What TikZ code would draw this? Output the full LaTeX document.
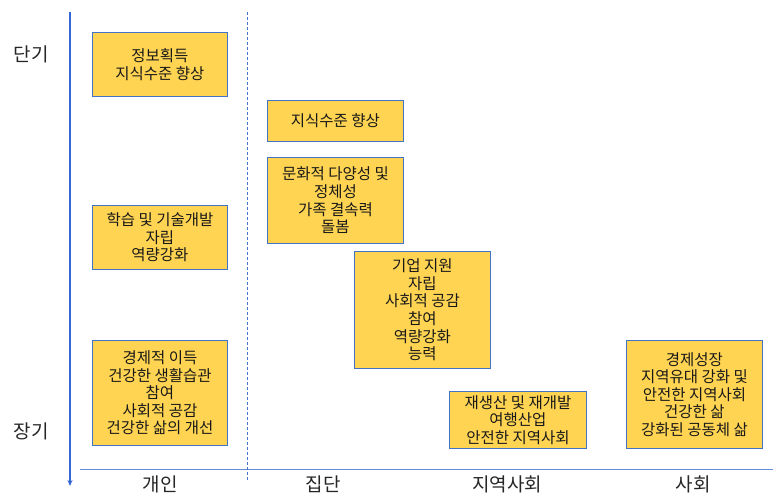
\documentclass[tikz,border=0pt]{standalone}
\usepackage{fontspec}
\setmainfont{Noto Sans CJK KR}
\usetikzlibrary{arrows.meta}
\definecolor{boxfill}{RGB}{255,212,82}
\definecolor{boxline}{RGB}{68,114,196}
\definecolor{axisblue}{RGB}{52,102,212}
\definecolor{lineblue}{RGB}{100,140,215}
\definecolor{dashblue}{RGB}{70,115,205}
\tikzset{
  outbox/.style={draw=boxline, line width=0.9pt, fill=boxfill, align=center, font=\fontsize{15.5}{17.6}\selectfont, inner sep=0pt, anchor=north west, text=black!90},
  axlabel/.style={font=\fontsize{19}{22}\selectfont, text=black!85}
}
\begin{document}
\begin{tikzpicture}[x=1pt,y=-1pt]
\useasboundingbox (0,0) rectangle (773,495);
% axes
\coordinate (vtop) at (70,12);
\coordinate (vbot) at (70,486);
\draw[axisblue, line width=1.3pt, -{Stealth[length=6pt,width=5pt]}] (vtop) -- (vbot);
\coordinate (hl) at (80,469);
\coordinate (hr) at (773,469);
\draw[lineblue, line width=0.8pt] (hl) -- (hr);
\coordinate (dtop) at (247,12);
\coordinate (dbot) at (247,480);
\draw[dashblue, line width=1pt, dash pattern=on 3pt off 2pt] (dtop) -- (dbot);
% axis labels
\node[axlabel] (short) at (31,54) {단기};
\node[axlabel] (long) at (31,431) {장기};
\node[axlabel] (c1) at (160,484) {개인};
\node[axlabel] (c2) at (323,484) {집단};
\node[axlabel] (c3) at (507,484) {지역사회};
\node[axlabel] (c4) at (693,484) {사회};
% boxes
\node[outbox, minimum width=135pt, minimum height=64pt] (b1) at (92,32) {정보획득\\지식수준 향상};
\node[outbox, minimum width=135pt, minimum height=64pt] (b2) at (92,205) {학습 및 기술개발\\자립\\역량강화};
\node[outbox, minimum width=135pt, minimum height=105pt] (b3) at (92,340) {경제적 이득\\건강한 생활습관\\참여\\사회적 공감\\건강한 삶의 개선};
\node[outbox, minimum width=136pt, minimum height=41pt] (b4) at (267,100) {지식수준 향상};
\node[outbox, minimum width=136pt, minimum height=86pt] (b5) at (267,157) {문화적 다양성 및\\정체성\\가족 결속력\\돌봄};
\node[outbox, minimum width=136pt, minimum height=117pt] (b6) at (354,251) {기업 지원\\자립\\사회적 공감\\참여\\역량강화\\능력};
\node[outbox, minimum width=137pt, minimum height=57pt] (b7) at (449,391) {재생산 및 재개발\\여행산업\\안전한 지역사회};
\node[outbox, minimum width=136pt, minimum height=108pt] (b8) at (626,340) {경제성장\\지역유대 강화 및\\안전한 지역사회\\건강한 삶\\강화된 공동체 삶};
\end{tikzpicture}
\end{document}
